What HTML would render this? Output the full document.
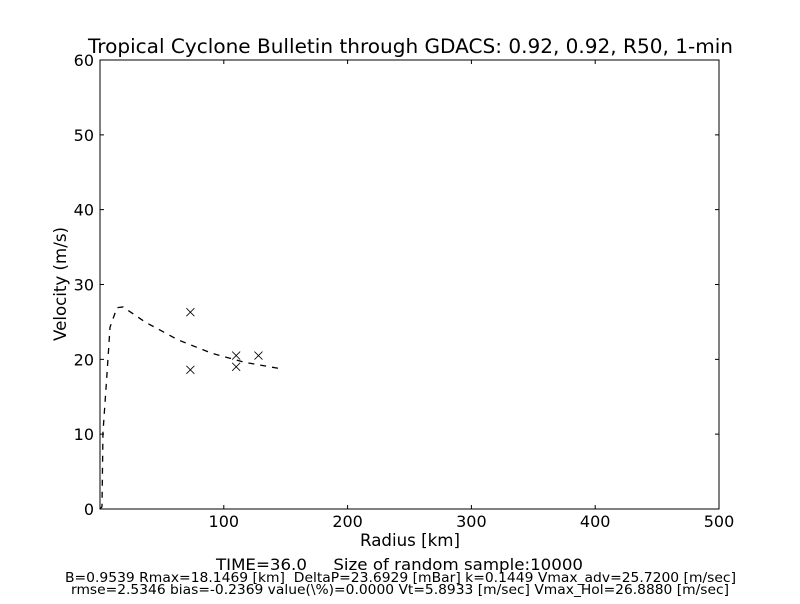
<!DOCTYPE html>
<html><head><meta charset="utf-8"><style>
body{margin:0;background:#fff;font-family:"DejaVu Sans","Liberation Sans",sans-serif}
text{white-space:pre}
</style></head><body>
<svg width="800" height="600" xmlns="http://www.w3.org/2000/svg" font-family="DejaVu Sans, Liberation Sans, sans-serif">
<rect width="800" height="600" fill="#fff"/>
<text x="88" y="53" font-size="19.5" textLength="645" lengthAdjust="spacingAndGlyphs">Tropical Cyclone Bulletin through GDACS: 0.92, 0.92, R50, 1-min</text>
<g id="ticks"></g>
<g id="marks"></g>
<rect x="100" y="60" width="619" height="449" fill="none" stroke="#000" stroke-width="1"/>
<text x="360" y="546" font-size="16.5" textLength="100" lengthAdjust="spacingAndGlyphs">Radius [km]</text>
<text x="66" y="284" font-size="16.5" text-anchor="middle" transform="rotate(-90 66 284)" textLength="114" lengthAdjust="spacingAndGlyphs">Velocity (m/s)</text>
<text x="216" y="570" font-size="16" textLength="367" lengthAdjust="spacingAndGlyphs">TIME=36.0     Size of random sample:10000</text>
<text x="65" y="582" font-size="13.5" textLength="671" lengthAdjust="spacingAndGlyphs">B=0.9539 Rmax=18.1469 [km]  DeltaP=23.6929 [mBar] k=0.1449 Vmax_adv=25.7200 [m/sec]</text>
<text x="71" y="594" font-size="13.5" textLength="658" lengthAdjust="spacingAndGlyphs">rmse=2.5346 bias=-0.2369 value(\%)=0.0000 Vt=5.8933 [m/sec] Vmax_Hol=26.8880 [m/sec]</text>
</svg>
<script>
const xTicks=[100,200,300,400,500];
const yTicks=[0,10,20,30,40,50,60];
const curveR=[0,1.6,2.4,5.7,8.1,13.7,18.6,36.3,63,90.5,117,144];
const curveV=[0,0.3,10.2,18.2,24.3,26.9,27.0,25.0,22.6,20.8,19.6,18.8];
const obsR=[73,73,110,110,128];
const obsV=[26.3,18.6,20.5,19.0,20.5];
const NS="http://www.w3.org/2000/svg";
const sx=v=>100+v*619/500, sy=v=>509-v*449/60;
const tg=document.getElementById('ticks'), mg=document.getElementById('marks');
function mk(t,a,p){const e=document.createElementNS(NS,t);for(const k in a)e.setAttribute(k,a[k]);p.appendChild(e);return e;}
xTicks.forEach(v=>{const x=sx(v);
 const l=mk('path',{d:`M${x},509v-4M${x},60v4`,stroke:'#000'},tg);
 
 
 const t=mk('text',{x:x,y:527,'font-size':16,'text-anchor':'middle'},tg);t.textContent=v;
 
 });
yTicks.forEach(v=>{const y=sy(v);
 const l=mk('path',{d:`M100,${y}h4M719,${y}h-4`,stroke:'#000'},tg);
 
 
 const t=mk('text',{x:94,y:y+6,'font-size':16,'text-anchor':'end'},tg);t.textContent=v;
 
 });
const c=mk('polyline',{points:curveR.map((r,i)=>sx(r)+','+sy(curveV[i])).join(' '),fill:'none',stroke:'#000','stroke-width':1.3,'stroke-dasharray':'6,6'},mg);


obsR.forEach((r,i)=>{const x=sx(r),y=sy(obsV[i]);
 const m=mk('path',{d:`M${x-4},${y-4}L${x+4},${y+4}M${x-4},${y+4}L${x+4},${y-4}`,stroke:'#000','stroke-width':0.8},mg);
 
 });
</script>
</body></html>
